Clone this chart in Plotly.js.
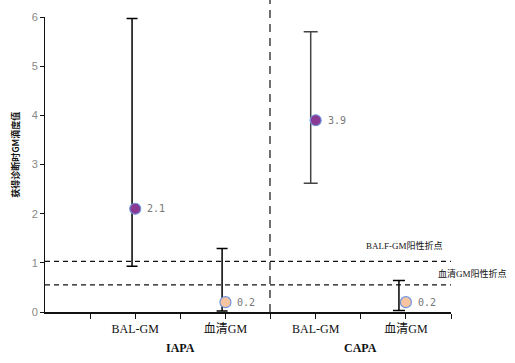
<!DOCTYPE html>
<html><head><meta charset="utf-8">
<script src="https://cdn.plot.ly/plotly-3.0.1.min.js"></script>
<style>html,body{margin:0;padding:0;background:#fff;}#chart{width:515px;height:363px;}</style>
</head><body><div id="chart"></div>
<script>
// Data
const categories = ['BAL-GM', '血清GM', 'BAL-GM', '血清GM'];
const groups = ['IAPA', 'CAPA'];
const xPos = [1, 2, 3, 4];
const medians = [2.1, 0.2, 3.9, 0.2];
const upperVals = [5.97, 1.29, 5.70, 0.64];
const lowerVals = [0.93, 0.02, 2.62, 0.03];
const cutoffs = [1.03, 0.55];
const cutoffLabels = ['BALF-GM阳性折点', '血清GM阳性折点'];
const yTicks = [0, 1, 2, 3, 4, 5, 6];

const serif = 'Liberation Serif, Noto Sans CJK SC, serif';
const barShift = [-0.035, -0.037, -0.055, -0.077];
const markerFill = ['#8b3a93', '#f6c4a0', '#8b3a93', '#f6c4a0'];
const barColor = ['#000', '#000', '#444', '#000'];
const capHalf = [5.5, 5.5, 7, 6];

const traces = [];
xPos.forEach((x, i) => {
  traces.push({
    type: 'scatter', mode: 'markers', x: [x + barShift[i]], y: [medians[i]],
    marker: {size: 1, opacity: 0}, hoverinfo: 'skip', showlegend: false,
    error_y: {type: 'data', symmetric: false,
      array: [upperVals[i] - medians[i]], arrayminus: [medians[i] - lowerVals[i]],
      color: barColor[i], thickness: 1.5, width: capHalf[i]}
  });
});
traces.push({
  type: 'scatter', mode: 'markers', x: xPos, y: medians, showlegend: false,
  marker: {size: 11, color: markerFill, line: {color: '#6f93dd', width: 1.2}}
});

const tickVals = [0.5, 1, 1.5, 2, 2.5, 3, 3.5, 4, 4.5];
const tickText = tickVals.map(v => { const k = xPos.indexOf(v); return k >= 0 ? categories[k] : ''; });

const shapes = cutoffs.map(c => ({type: 'line', xref: 'x', yref: 'y', x0: 0, x1: 4.52, y0: c, y1: c,
  line: {color: '#111', width: 1.2, dash: '5px,4px'}}));
shapes.push({type: 'line', xref: 'paper', yref: 'paper', x0: 225/406, x1: 225/406, y0: 0, y1: 1.06,
  line: {color: '#111', width: 1.2, dash: '8px,6px'}});

const annotations = [];
xPos.forEach((x, i) => annotations.push({x: x, y: medians[i], xref: 'x', yref: 'y', text: String(medians[i]),
  showarrow: false, xanchor: 'left', xshift: 10, font: {family: 'DejaVu Sans Mono, monospace', size: 10, color: '#777'}}));
groups.forEach((g, i) => annotations.push({x: 1.5 + 2 * i, y: 0, xref: 'x', yref: 'paper', yshift: -45,
  text: '<b>' + g + '</b>', showarrow: false, font: {family: serif, size: 12, color: '#111'}}));
annotations.push({x: (404 - 45) / 406, y: cutoffs[0], xref: 'paper', yref: 'y', yshift: 16, xanchor: 'center',
  text: cutoffLabels[0], showarrow: false, font: {family: serif, size: 9, color: '#111'}});
annotations.push({x: (472 - 45) / 406, y: cutoffs[1], xref: 'paper', yref: 'y', yshift: 11, xanchor: 'center',
  text: cutoffLabels[1], showarrow: false, font: {family: serif, size: 9, color: '#111'}});
annotations.push({x: 0, y: 0.531, xref: 'paper', yref: 'paper', xshift: -38, textangle: -90,
  text: '<b>获得诊断时GM滴度值</b>', showarrow: false, font: {family: 'Noto Sans CJK SC', size: 9, color: '#111'}});

const layout = {
  width: 515, height: 363, margin: {l: 45, r: 64, t: 17, b: 51},
  paper_bgcolor: '#fff', plot_bgcolor: 'rgba(0,0,0,0)', showlegend: false,
  xaxis: {range: [0, 4.5], showgrid: false, zeroline: false, showline: true, linecolor: '#111', linewidth: 1.5,
    tickmode: 'array', tickvals: tickVals, ticktext: tickText, ticks: 'outside', ticklen: 5, tickcolor: '#111',
    tickfont: {family: serif, size: 12, color: '#111'}},
  yaxis: {range: [0, 6], showgrid: false, zeroline: false, showline: true, linecolor: '#111', linewidth: 1,
    tickmode: 'array', tickvals: yTicks, ticks: 'outside', ticklen: 4, tickcolor: '#111',
    tickfont: {family: 'Liberation Sans, sans-serif', size: 11, color: '#888'}},
  shapes: shapes, annotations: annotations
};
Plotly.newPlot('chart', traces, layout, {staticPlot: true, displayModeBar: false});
</script></body></html>
